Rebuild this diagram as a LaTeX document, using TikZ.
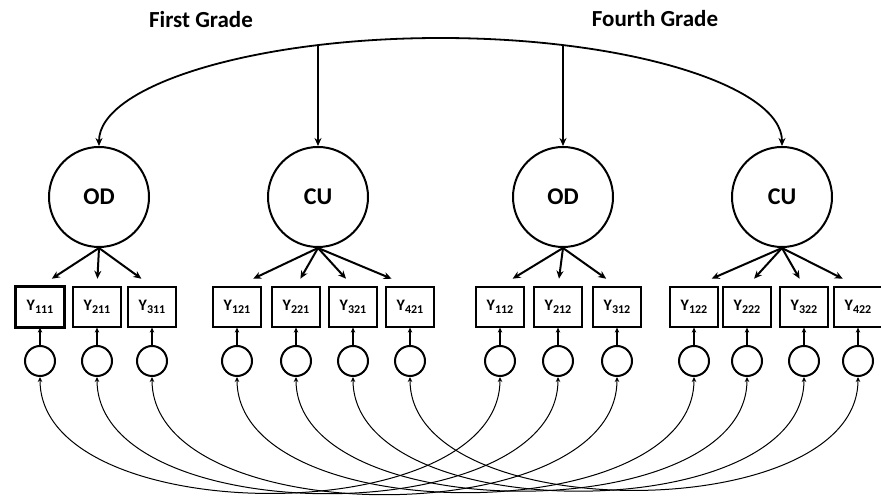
\documentclass[tikz,border=0pt]{standalone}
\usepackage{fontspec}
\setmainfont{Carlito}
\usepackage{tikz}
\usetikzlibrary{calc,arrows.meta}
\tikzset{>={Stealth[length=8pt,width=7pt]}}
\tikzset{
  latent/.style={circle,draw,line width=2pt,minimum size=100pt,inner sep=0pt,font=\fontsize{24}{24}\selectfont\bfseries},
  indicator/.style={rectangle,draw,line width=1.2pt,minimum width=48pt,minimum height=40pt,inner sep=0pt},
  errterm/.style={circle,draw,line width=2pt,minimum size=30pt,inner sep=0pt},
  title/.style={font=\fontsize{23}{23}\selectfont\bfseries},
  small tip/.style={>={Stealth[length=5pt,width=4.5pt]}},
}
\newcommand{\ylab}[1]{\fontsize{16}{16}\selectfont\bfseries Y\raisebox{-3pt}{\fontsize{12}{12}\selectfont #1}}

\begin{document}
\begin{tikzpicture}[x=1pt,y=1pt]
  \useasboundingbox (0,0) rectangle (881,503);

  % Titles
  \node[title] (t1) at (201,483) {First Grade};
  \node[title] (t4) at (655,484) {Fourth Grade};

  % Latent factors
  \node[latent] (od1) at (99,306) {OD};
  \node[latent] (cu1) at (318,306) {CU};
  \node[latent] (od2) at (563,306) {OD};
  \node[latent] (cu2) at (782,306) {CU};

  % Indicators with their error terms
  \foreach \n/\x in {111/40, 211/97, 311/152, 121/237, 221/296, 321/353, 421/410,
                     112/500, 212/558, 312/617, 122/694, 222/747, 322/804, 422/858} {
    \node[indicator] (y\n) at (\x,196) {\ylab{\n}};
    \node[errterm] (e\n) at (\x,142) {};
    \draw[->,small tip,line width=1.2pt] (e\n) -- (y\n);
  }
  \draw[line width=3pt] (y111.south west) rectangle (y111.north east); % heavier box

  % Loadings
  \foreach \f/\ys in {od1/{111,211,311}, cu1/{121,221,321,421},
                      od2/{112,212,312}, cu2/{122,222,322,422}} {
    \foreach \n in \ys {
      \draw[->,line width=2pt] (\f.south) -- ($(\f.south)!0.8!(y\n.north)$);
    }
  }

  % Covariance between the two grades
  \coordinate (arctop) at (440.5,465);
  \coordinate (arcA) at (318,457);
  \coordinate (arcB) at (563,457);
  \draw[<->,line width=1.8pt] (od1.north) .. controls +(0,60) and +(-188,0) .. (arctop)
    .. controls +(188,0) and +(0,60) .. (cu2.north);
  \draw[->,line width=1.8pt] (cu1.north |- arcA) -- (cu1.north);
  \draw[->,line width=1.8pt] (od2.north |- arcB) -- (od2.north);

  % Correlated residuals across grades
  \foreach \a/\b in {111/112, 211/212, 311/312, 121/122, 221/222, 321/322, 421/422} {
    \draw[<->,small tip,line width=1pt] (e\a.south) to[out=-90,in=-90,looseness=0.86] (e\b.south);
  }

\end{tikzpicture}
\end{document}
